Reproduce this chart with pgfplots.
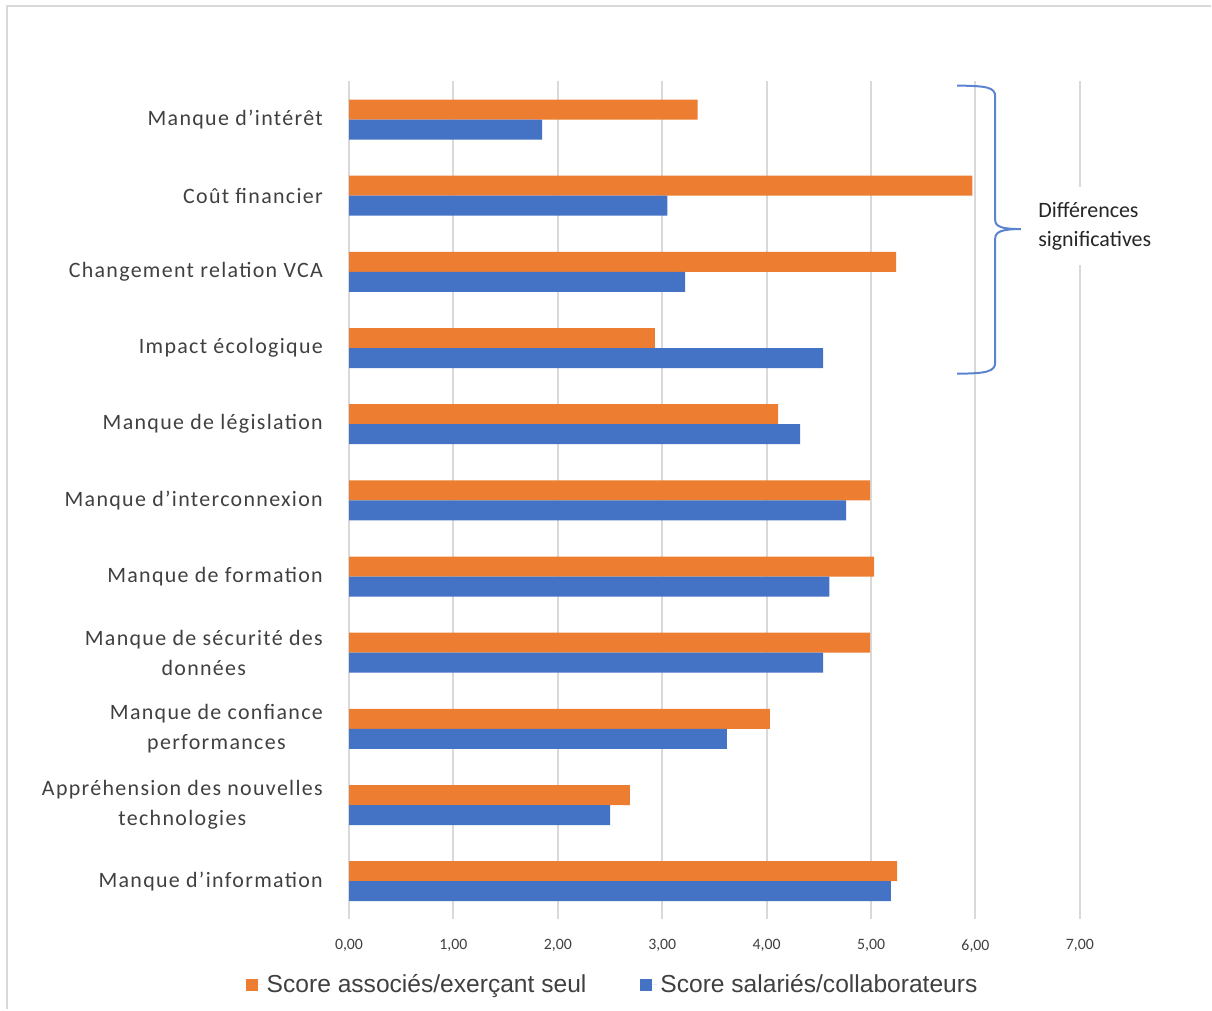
\documentclass[border=0pt]{standalone}
\usepackage{pgfplots}
\pgfplotsset{compat=1.18}
\usepackage{pgfplotstable}
\usepackage{fontspec}
\setmainfont{Carlito}
\newfontfamily\calsp[LetterSpace=6]{Carlito}
\newfontfamily\arial{Liberation Sans}
\definecolor{orng}{HTML}{ED7D31}
\definecolor{blu}{HTML}{4472C4}
\definecolor{brc}{HTML}{5B84D0}
\definecolor{lab}{HTML}{404040}
\definecolor{grd}{HTML}{D9D9D9}

\pgfplotstableread{
idx assoc sal
0 3.34 1.85
1 5.97 3.05
2 5.24 3.22
3 2.93 4.54
4 4.11 4.32
5 4.99 4.76
6 5.03 4.60
7 4.99 4.54
8 4.03 3.62
9 2.69 2.50
10 5.25 5.19
}\data

\begin{document}
\begin{tikzpicture}
\path (0,0) rectangle (242.4mm,-202mm);
\draw[grd, line width=0.4mm] (1.4mm,-202mm) -- (1.4mm,-1.2mm) -- (242.4mm,-1.2mm);
\begin{axis}[
  at={(69.86mm,-184mm)}, anchor=south west,
  scale only axis, width=146.3mm, height=167.7mm,
  xbar, bar width=4mm,
  xmin=0, xmax=7, ymin=-0.5, ymax=10.5, y dir=reverse,
  xtick={0,1,2,3,4,5,6,7},
  xticklabels={{0,00},{1,00},{2,00},{3,00},{4,00},{5,00},{6,00},{7,00}},
  xticklabel style={font=\fontsize{9}{10}\selectfont, text=lab, yshift=-2.8mm},
  ytick={0,...,10},
  yticklabels={
    {Manque d’intérêt},
    {Coût financier},
    {Changement relation VCA},
    {Impact écologique},
    {Manque de législation},
    {Manque d’interconnexion},
    {Manque de formation},
    {Manque de sécurité des\\données},
    {Manque de confiance\\performances},
    {Appréhension des nouvelles\\technologies},
    {Manque d’information}},
  yticklabel style={font=\calsp\fontsize{12.5}{17}\selectfont, text=lab, align=center, xshift=-4mm},
  major tick length=0pt,
  axis line style={draw=none},
  xmajorgrids, major grid style={grd, line width=0.4mm},
  clip=false,
  legend columns=2,
  legend style={at={(0.362,-0.078)}, anchor=center, draw=none, fill=none,
    font=\arial\fontsize{14}{16}\selectfont, text=lab,
    /tikz/every even column/.append style={column sep=10mm}},
  legend image code/.code={\fill[#1] (0mm,-1.2mm) rectangle (2.4mm,1.2mm); \path (0mm,0mm) -- (3.4mm,0mm);},
]
\addplot[fill=orng, draw=none, bar shift=2mm] table[x=assoc, y=idx] {\data};
\addlegendentry{Score associés/exerçant seul}
\addplot[fill=blu, draw=none, bar shift=-2mm] table[x=sal, y=idx] {\data};
\addlegendentry{Score salariés/collaborateurs}

\draw[brc, line width=0.4mm]
  (axis cs:5.825,-0.446) .. controls (axis cs:6.10,-0.44) and (axis cs:6.189,-0.43) .. (axis cs:6.189,-0.30)
  -- (axis cs:6.189,1.32) .. controls (axis cs:6.189,1.41) and (axis cs:6.26,1.438) .. (axis cs:6.434,1.438)
  .. controls (axis cs:6.26,1.438) and (axis cs:6.189,1.47) .. (axis cs:6.189,1.56)
  -- (axis cs:6.189,3.19) .. controls (axis cs:6.189,3.31) and (axis cs:6.10,3.336) .. (axis cs:5.825,3.336);
\node[fill=white, anchor=west, align=left, inner xsep=1mm, inner ysep=3mm,
  font=\fontsize{12.5}{16.5}\selectfont, text=black!85]
  at (axis cs:6.55,1.4) {Différences\\significatives};
\end{axis}
\end{tikzpicture}
\end{document}
